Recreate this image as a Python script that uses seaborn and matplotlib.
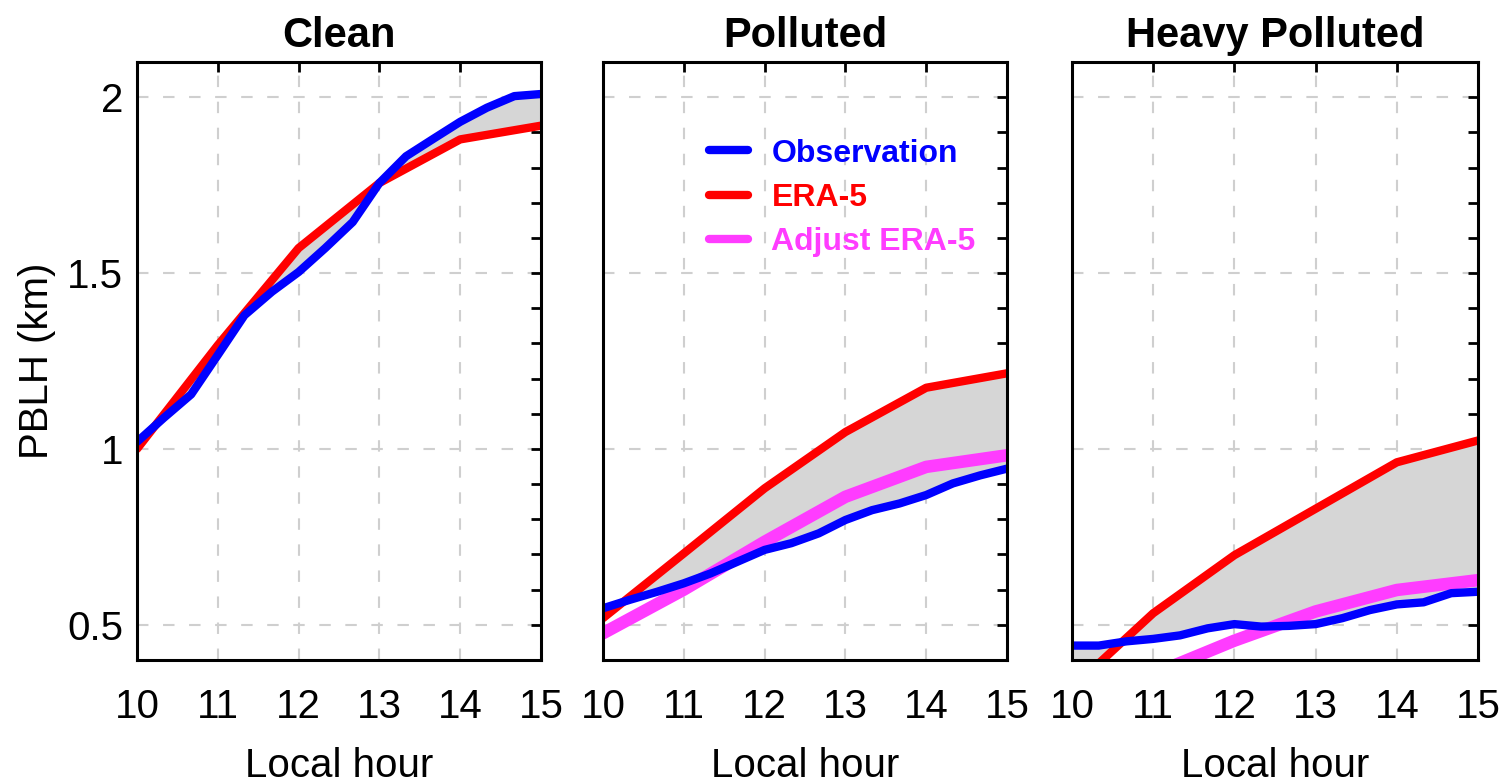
import numpy as np
import pandas as pd
import matplotlib
matplotlib.use("Agg")
import matplotlib.pyplot as plt
import seaborn as sns
from matplotlib.ticker import MultipleLocator

# ---------------- data ----------------
titles = ["Clean", "Polluted", "Heavy Polluted"]
hours_era = [10, 11, 12, 13, 14, 15]
hours_obs = [10, 10.33, 10.67, 11, 11.33, 11.67, 12, 12.33, 12.67,
             13, 13.33, 13.67, 14, 14.33, 14.67, 15]

clean_obs = [1.02, 1.088, 1.155, 1.267, 1.38, 1.447, 1.503, 1.571, 1.645,
             1.756, 1.832, 1.882, 1.93, 1.97, 2.003, 2.009]
clean_era = [1.0, 1.295, 1.571, 1.756, 1.88, 1.919]

poll_obs = [0.547, 0.571, 0.594, 0.618, 0.646, 0.68, 0.713, 0.732, 0.76,
            0.798, 0.826, 0.845, 0.869, 0.902, 0.925, 0.944]
poll_era = [0.519, 0.703, 0.888, 1.048, 1.174, 1.215]
poll_adj = [0.476, 0.60, 0.736, 0.864, 0.949, 0.982]

heavy_obs = [0.441, 0.441, 0.453, 0.46, 0.47, 0.49, 0.502, 0.495, 0.497,
             0.502, 0.519, 0.542, 0.558, 0.564, 0.59, 0.594]
heavy_era = [0.32, 0.533, 0.698, 0.83, 0.962, 1.024]
heavy_adj = [0.28, 0.36, 0.455, 0.538, 0.599, 0.627]

obs_sets = [clean_obs, poll_obs, heavy_obs]
era_sets = [clean_era, poll_era, heavy_era]
adj_sets = [None, poll_adj, heavy_adj]

labels = ["Observation", "ERA-5", "Adjust ERA-5"]
colors = ["#0000ff", "#ff0000", "#ff3cff"]

# ---------------- style ----------------
sns.set_theme(style="white")
plt.rcParams["font.family"] = ["Liberation Sans", "DejaVu Sans"]
plt.rcParams.update({"text.color": "black", "axes.labelcolor": "black",
                     "xtick.color": "black", "ytick.color": "black"})

W, H = 1510, 784
fig = plt.figure(figsize=(W / 100, H / 100), dpi=100)

lefts = [137, 603, 1072]
rights = [541, 1007, 1478]
top, bottom = 62, 660

for i in range(3):
    ax = fig.add_axes([lefts[i] / W, 1 - bottom / H,
                       (rights[i] - lefts[i]) / W, (bottom - top) / H])
    obs = np.array(obs_sets[i])
    era = np.array(era_sets[i])
    era_interp = np.interp(hours_obs, hours_era, era)
    ax.fill_between(hours_obs, obs, era_interp, color="#d6d6d6", lw=0, zorder=1)

    if adj_sets[i] is not None:
        sns.lineplot(x=hours_era, y=adj_sets[i], ax=ax, color=colors[2],
                     linewidth=9, label=labels[2], zorder=3)
    sns.lineplot(x=hours_era, y=era_sets[i], ax=ax, color=colors[1],
                 linewidth=6, label=labels[1], zorder=4)
    sns.lineplot(x=hours_obs, y=obs_sets[i], ax=ax, color=colors[0],
                 linewidth=6, label=labels[0], zorder=5)

    ax.set_xlim(10, 15)
    ax.set_ylim(0.4, 2.1)
    ax.set_xticks(hours_era)
    ax.set_yticks([0.5, 1.0, 1.5, 2.0])
    ax.yaxis.set_minor_locator(MultipleLocator(0.1))
    ax.grid(True, which="major", linestyle=(0, (5.5, 7)), color="#cfcfcf",
            linewidth=1.5, zorder=0)
    ax.set_axisbelow(True)
    ax.tick_params(which="both", direction="in", top=True, right=True,
                   length=7, width=2, color="black")
    ax.tick_params(axis="x", labelsize=29, pad=20)
    ax.tick_params(axis="y", labelsize=29, pad=10)
    ax.set_yticklabels(["0.5", "1", "1.5", "2"])
    if i > 0:
        ax.set_yticklabels([])
    for sp in ax.spines.values():
        sp.set_linewidth(2.2)
        sp.set_color("black")
        sp.set_zorder(10)
    ax.set_title(titles[i], fontsize=30, fontweight="bold", pad=11)
    ax.set_xlabel("Local hour", fontsize=29, labelpad=15)
    if i == 0:
        ax.set_ylabel("PBLH (km)", fontsize=29, labelpad=8)
    else:
        ax.set_ylabel("")

    if i == 1:
        handles, labs = ax.get_legend_handles_labels()
        order = [labs.index(l) for l in labels]
        leg = ax.legend([handles[k] for k in order], [labs[k] for k in order],
                        loc="upper left", bbox_to_anchor=(0.19, 0.92),
                        frameon=False, handlelength=1.25, handletextpad=0.72,
                        labelspacing=0.45,
                        prop={"weight": "bold", "size": 23})
        for line, txt, c in zip(leg.get_lines(), leg.get_texts(), colors):
            line.set_linewidth(6)
            txt.set_color(c)
    else:
        lg = ax.get_legend()
        if lg is not None:
            lg.remove()

fig.savefig("out.png", dpi=100)
